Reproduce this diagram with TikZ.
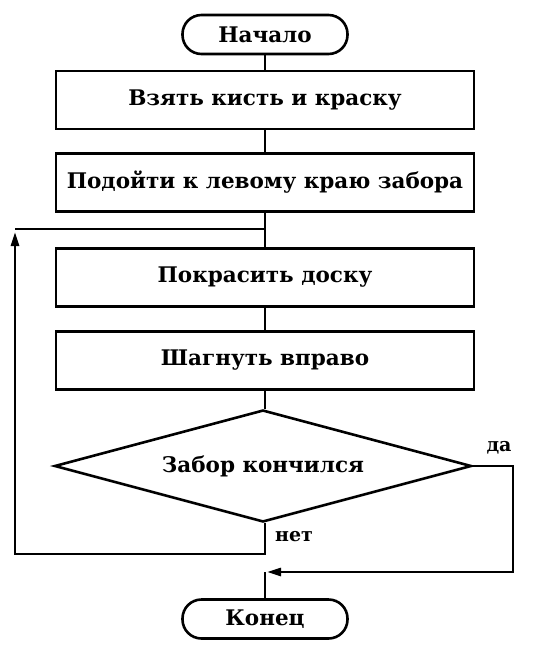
\documentclass[tikz,border=0pt]{standalone}
\usepackage{fontspec}
\setmainfont{DejaVu Serif}
\usetikzlibrary{shapes.geometric,arrows.meta}
\begin{document}
\begin{tikzpicture}[x=1pt,y=1pt,line width=2.6pt,
  txt/.style={font=\bfseries\fontsize{21.5}{24}\selectfont},
  term/.style={draw,rounded corners=19pt,minimum width=165pt,minimum height=39pt,inner sep=0pt,txt},
  act/.style={draw,minimum width=418pt,minimum height=58pt,inner sep=0pt,txt},
  cond/.style={draw,diamond,aspect=3.72,minimum width=417pt,minimum height=112pt,inner sep=0pt,txt},
  arr/.style={-{Triangle[length=14pt,width=8pt]}},
  lbl/.style={font=\bfseries\fontsize{19}{22}\selectfont,inner sep=0pt}]
\useasboundingbox (0,0) rectangle (538,-649);
\node[term] (start) at (265,-34.5) {Начало};
\node[act] (b1) at (265,-100) {Взять кисть и краску};
\node[act] (b2) at (265,-182.5) {Подойти к левому краю забора};
\node[act] (b3) at (265,-277.5) {Покрасить доску};
\node[act] (b4) at (265,-360.5) {Шагнуть вправо};
\node[cond] (d) at (263,-466) {Забор кончился};
\node[term] (end) at (265,-619) {Конец};
\coordinate (j) at (265,-229);
\coordinate (nb) at (265,-554);
\coordinate (nl) at (15,-554);
\coordinate (na) at (15,-232);
\coordinate (nt) at (15,-229);
\coordinate (y1) at (513,-466);
\coordinate (y2) at (513,-572);
\coordinate (ya) at (267,-572);
\coordinate (yj) at (265,-572);
\node[lbl] (da) at (499,-448) {да};
\node[lbl] (net) at (294,-537) {нет};
\draw (start) -- (b1);
\draw (b1) -- (b2);
\draw (b2) -- (b3);
\draw (b3) -- (b4);
\draw (b4.south) -- (d.north -| b4.south);
\draw[arr] (d.south -| nb) -- (nb) -- (nl) -- (na);
\draw (nt) -- (j);
\draw[arr] (d.east) -- (y1) -- (y2) -- (ya);
\draw (yj) -- (end.north);
\end{tikzpicture}
\end{document}
